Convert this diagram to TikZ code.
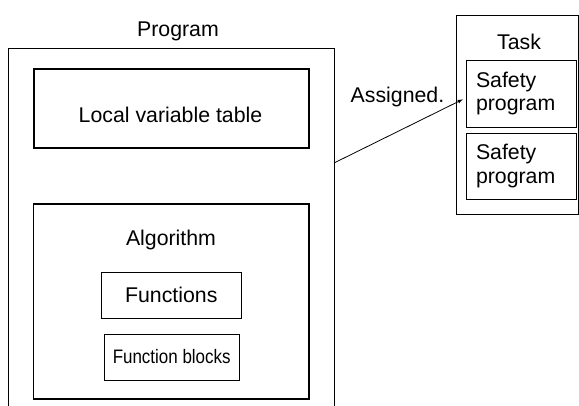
\documentclass[tikz,border=0pt]{standalone}
\usepackage{fontspec}
\setmainfont{Liberation Sans}
\usepackage{graphicx}
\usepackage{tikz}
\usetikzlibrary{arrows}
\usetikzlibrary{positioning}

\begin{document}
\begin{tikzpicture}[x=1pt,y=-1pt,
        txt/.style={font=\fontsize{21.3}{23.5}\selectfont},
        thinbox/.style={draw,line width=0.9pt,inner sep=0pt,txt},
        thickbox/.style={draw,line width=1.5pt,inner sep=0pt,txt}]
        \useasboundingbox (0,0) rectangle (579,406);

        % program, open at the bottom
        \draw[line width=0.9pt] (8,406) -- (8,48) -- (334,48) -- (334,406);
        \node[txt,anchor=base] (prog) at (178,37) {Program};

        \node[thickbox,minimum width=275pt,minimum height=79pt] (lvt) at (171.5,108.5) {};
        \node[txt,anchor=base] (lvtname) at (170.5,123) {Local variable table};

        \node[thickbox,minimum width=275.5pt,minimum height=195pt] (algo) at (171.3,301.7) {};
        \node[txt,anchor=base] (algoname) at (171,245.7) {Algorithm};
        \node[thinbox,minimum width=140.7pt,minimum height=46pt] (func) at (171.3,295) {Functions};
        \node[thinbox,minimum width=134.7pt,minimum height=46pt,
            font=\fontsize{19.5}{23}\selectfont] (fblk) at (171.7,357) {\scalebox{0.87}[1]{Function blocks}};

        % task
        \node[thinbox,minimum width=121.3pt,minimum height=199pt] (task) at (517.3,114.5) {};
        \node[txt,anchor=base] (taskname) at (519,50) {Task};
        \foreach \n/\y/\h in {1/93.5/67,2/166/66} {
            \node[thinbox,minimum width=110pt,minimum height=\h pt,text width=90pt,
                inner xsep=10pt,align=left] (sp\n) at (521,\y) {Safety\\program};
        }

        \coordinate (assign) at (334,163);
        \draw[-latex,line width=0.8pt,shorten >=3pt] (assign) -- ([yshift=-4.5pt]sp1.west);
        \node[txt,anchor=base] (assignname) at (397.5,103) {Assigned.};
    \end{tikzpicture}
\end{document}
